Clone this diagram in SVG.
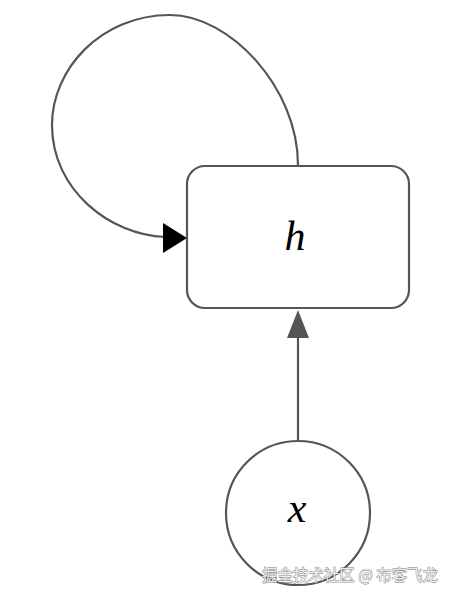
<svg xmlns="http://www.w3.org/2000/svg" width="452" height="597" viewBox="0 0 452 597">
<style>
.shape{fill:#fff;stroke:#555;stroke-width:2.2}
.edge{fill:none;stroke:#555;stroke-width:2.2}
.lbl{font-family:"Liberation Serif","DejaVu Serif",serif;font-style:italic;font-size:42px;fill:#000;text-anchor:middle}
.wm{font-family:"Noto Sans CJK SC","Noto Sans",sans-serif;font-size:16px;fill:#eee;stroke:#777;stroke-width:0.8;paint-order:stroke}
</style>
<g id="connectors">
<path class="edge" d="M298,165 C298,88 230,15 170,15 C100,15 52,70 52,125 C52,190 110,235 165,237"/>
<path d="M163,223 L187,238 L163,253 Z" fill="#000"/>
<line class="edge" x1="298" y1="442" x2="298" y2="336"/>
<path d="M287,338 L298,310 L309,338 Z" fill="#555"/>
</g>
<g id="node-h">
<rect class="shape" x="187" y="166" width="222" height="142" rx="18" ry="18"/>
<text class="lbl" x="295" y="250">h</text>
</g>
<g id="node-x">
<circle class="shape" cx="298" cy="513" r="72"/>
<text class="lbl" x="297" y="522">x</text>
</g>
<text class="wm" x="262" y="581" textLength="176" lengthAdjust="spacingAndGlyphs">掘金技术社区 @ 布客飞龙</text>
</svg>
